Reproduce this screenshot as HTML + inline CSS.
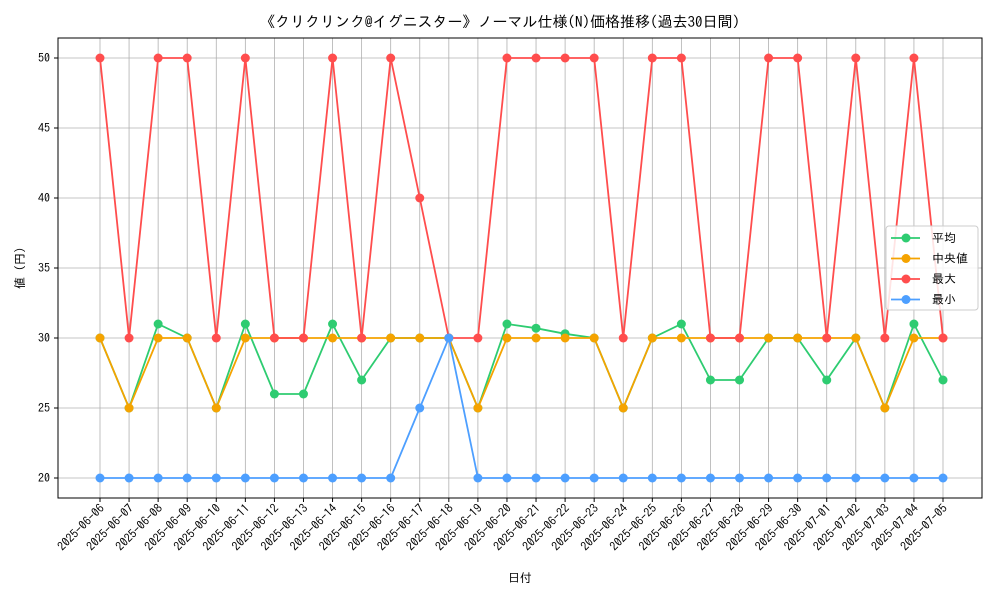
<!DOCTYPE html>
<html><head><meta charset="utf-8"><style>
body{margin:0;background:#fff;}
svg text{font-family:"IPAGothic","Noto Sans CJK JP",sans-serif;fill:#000;}
</style></head><body>
<svg id="c" width="1000" height="600" xmlns="http://www.w3.org/2000/svg"></svg>
<script>
const dates=["2025-06-06","2025-06-07","2025-06-08","2025-06-09","2025-06-10","2025-06-11","2025-06-12","2025-06-13","2025-06-14","2025-06-15","2025-06-16","2025-06-17","2025-06-18","2025-06-19","2025-06-20","2025-06-21","2025-06-22","2025-06-23","2025-06-24","2025-06-25","2025-06-26","2025-06-27","2025-06-28","2025-06-29","2025-06-30","2025-07-01","2025-07-02","2025-07-03","2025-07-04","2025-07-05"];
const avgVals=[30,25,31,30,25,31,26,26,31,27,30,30,30,25,31,30.7,30.3,30,25,30,31,27,27,30,30,27,30,25,31,27];
const medVals=[30,25,30,30,25,30,30,30,30,30,30,30,30,25,30,30,30,30,25,30,30,30,30,30,30,30,30,25,30,30];
const maxVals=[50,30,50,50,30,50,30,30,50,30,50,40,30,30,50,50,50,50,30,50,50,30,30,50,50,30,50,30,50,30];
const minVals=[20,20,20,20,20,20,20,20,20,20,20,25,30,20,20,20,20,20,20,20,20,20,20,20,20,20,20,20,20,20];
const yTicks=[20,25,30,35,40,45,50];
const seriesNames=["平均","中央値","最大","最小"];
const colors=["#2ecc71","#f5a300","#ff4d4d","#4d9fff"];
const svg=document.getElementById('c');
const NS="http://www.w3.org/2000/svg";
const L=58,R=982,T=38,B=498;
const x=i=>100+i*(943-100)/(dates.length-1);
const y=v=>478-(v-20)*14;
function mk(tag,attrs,parent){const e=document.createElementNS(NS,tag);for(const k in attrs)e.setAttribute(k,attrs[k]);(parent||svg).appendChild(e);return e;}
let t=mk('text',{x:500,y:27,'text-anchor':'middle','font-size':15});
t.textContent="《クリクリンク@イグニスター》ノーマル仕様(N)価格推移(過去30日間)";


const grid=mk('g',{stroke:'#b0b0b0','stroke-width':0.8});


dates.forEach((d,i)=>{
  mk('line',{x1:x(i),x2:x(i),y1:T,y2:B},grid);
  mk('line',{x1:x(i),x2:x(i),y1:B,y2:B+4,stroke:'#000'});
  const lb=mk('text',{'font-size':12,'text-anchor':'end',transform:`translate(${x(i)+5},${B+11}) rotate(-45)`});
  lb.textContent=d;
  
  
});
yTicks.forEach(v=>{
  mk('line',{x1:L,x2:R,y1:y(v),y2:y(v)},grid);
  mk('line',{x1:L-4,x2:L,y1:y(v),y2:y(v),stroke:'#000'});
  const lb=mk('text',{x:L-8,y:y(v)+4,'font-size':12,'text-anchor':'end'});
  lb.textContent=v;
  
  
});
const fr=mk('rect',{x:L,y:T,width:R-L,height:B-T,fill:'none',stroke:'#000','stroke-width':1});


const xt=mk('text',{x:520,y:582,'font-size':12,'text-anchor':'middle'});
xt.textContent="日付";


const yt=mk('text',{'font-size':12,'text-anchor':'middle',transform:'translate(24,268) rotate(-90)'});
yt.textContent="値 (円)";


[avgVals,medVals,maxVals,minVals].forEach((vals,s)=>{
  const g=mk('g',{});
  
  
  mk('polyline',{points:vals.map((v,i)=>x(i)+','+y(v)).join(' '),fill:'none',stroke:colors[s],'stroke-width':1.8},g);
  vals.forEach((v,i)=>{
    const c=mk('circle',{cx:x(i),cy:y(v),r:4.5,fill:colors[s]},g);
    
    
  });
});
const lg=mk('g',{});


mk('rect',{x:886,y:226,width:92,height:84,rx:3,fill:'#fff','fill-opacity':0.85,stroke:'#ccc'},lg);
seriesNames.forEach((n,s)=>{
  const yy=238+s*20.5;
  const e=mk('g',{},lg);
  
  
  mk('line',{x1:891,x2:920,y1:yy,y2:yy,stroke:colors[s],'stroke-width':1.8},e);
  mk('circle',{cx:906,cy:yy,r:4.5,fill:colors[s]},e);
  const tx=mk('text',{x:932,y:yy+4,'font-size':12},e);
  tx.textContent=n;
});
</script>
</body></html>
